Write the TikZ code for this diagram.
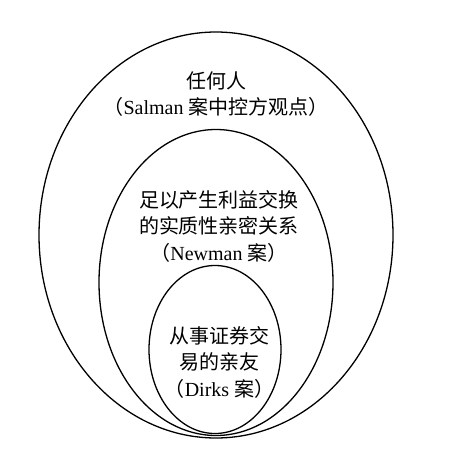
\documentclass[tikz,border=0pt]{standalone}
\usepackage{fontspec}
\setmainfont{Liberation Serif}
\newfontfamily\cjk{Noto Sans CJK SC}
\tikzset{
  ring/.style={draw=black, line width=1.3pt},
  label/.style={align=center, inner sep=0pt, font=\fontsize{20}{26.5}\selectfont}
}
\begin{document}
\begin{tikzpicture}[x=1pt,y=-1pt]
\useasboundingbox[fill=white] (0,0) rectangle (450,464);
\draw[ring] (216,235) ellipse [x radius=177, y radius=203];
\draw[ring] (216,282.5) ellipse [x radius=117, y radius=153];
\draw[ring] (215,349.5) ellipse [x radius=66, y radius=84];
\node[label] (outer) at (216,94) {{\cjk 任何人}\\{\cjk （}Salman {\cjk 案中控方观点）}};
\node[label] (middle) at (219,226) {{\cjk 足以产生利益交换}\\{\cjk 的实质性亲密关系}\\{\cjk （}Newman {\cjk 案）}};
\node[label] (inner) at (219.5,362) {{\cjk 从事证券交}\\{\cjk 易的亲友}\\{\cjk （}Dirks {\cjk 案）}};
\end{tikzpicture}
\end{document}
